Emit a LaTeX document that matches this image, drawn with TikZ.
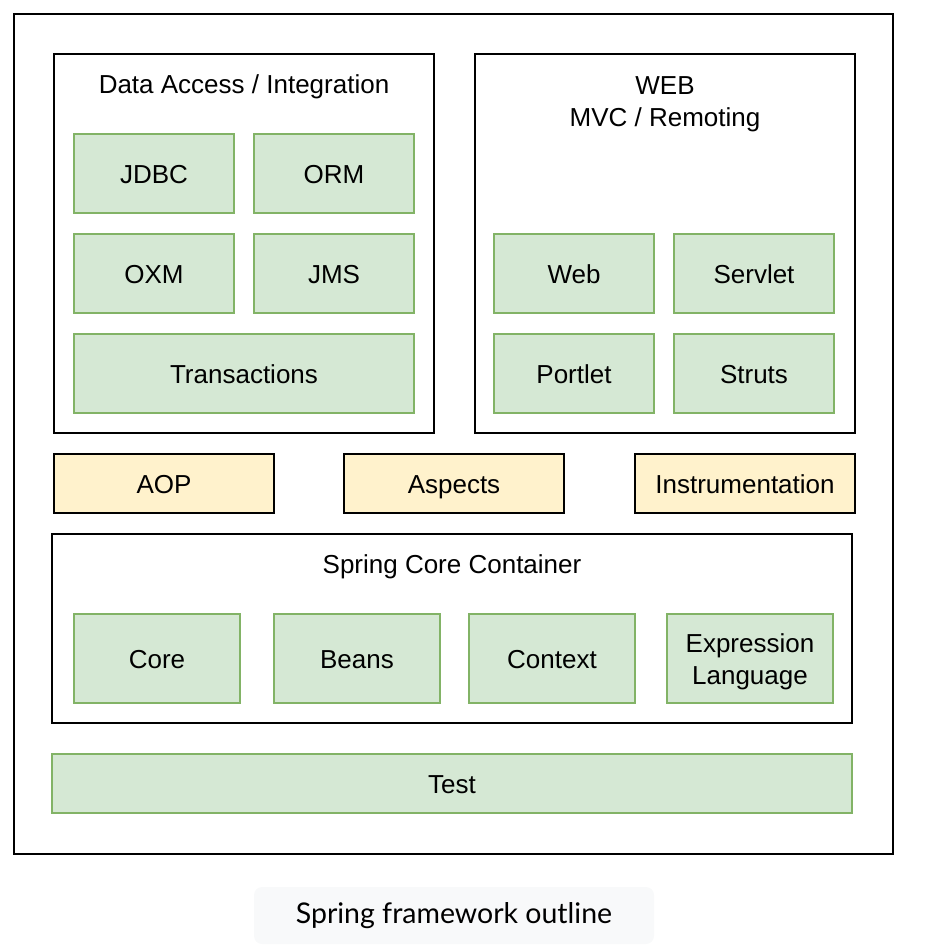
\documentclass[tikz,border=0pt]{standalone}
\usepackage{fontspec}
\setmainfont{Liberation Sans}
\newfontfamily\captionfont{Lato}
\definecolor{modfill}{HTML}{D5E8D4}
\definecolor{moddraw}{HTML}{82B366}
\definecolor{aopfill}{HTML}{FFF2CC}
\definecolor{capfill}{HTML}{F8F9FA}
\begin{document}
\begin{tikzpicture}[x=1pt,y=-1pt]
  \tikzset{
    oneline/.style={text height=21pt,text depth=1.6pt},
    twolines/.style={text height=54pt,text depth=1.6pt},
    layer/.style={draw=black,line width=2pt,inner sep=0pt},
    module/.style={draw=moddraw,fill=modfill,line width=1.8pt,inner sep=0pt,
      font=\fontsize{26}{32}\selectfont,align=center,oneline},
    aspect/.style={draw=black,fill=aopfill,line width=2pt,inner sep=0pt,
      minimum width=220pt,minimum height=59pt,font=\fontsize{26}{32}\selectfont,oneline},
    title/.style={font=\fontsize{26}{32}\selectfont,align=center,inner sep=0pt,oneline},
  }
  \useasboundingbox (0,0) rectangle (930,950);

    %FRAME
    \node[layer,minimum width=879pt,minimum height=840pt] (frame) at (453.5,434) {};

    %DATA ACCESS
    \node[layer,minimum width=380pt,minimum height=379pt] (data) at (244,243.5) {};
    \node[title] (datatitle) at (244,84) {Data Access / Integration};
    \node[module,minimum width=160pt,minimum height=79pt] (jdbc) at (154,173.5) {JDBC};
    \node[module,minimum width=160pt,minimum height=79pt] (orm) at (334,173.5) {ORM};
    \node[module,minimum width=160pt,minimum height=79pt] (oxm) at (154,273.5) {OXM};
    \node[module,minimum width=160pt,minimum height=79pt] (jms) at (334,273.5) {JMS};
    \node[module,minimum width=340pt,minimum height=79pt] (tx) at (244,373.5) {Transactions};

    %WEB
    \node[layer,minimum width=380pt,minimum height=379pt] (web) at (665,243.5) {};
    \node[title,twolines] (webtitle) at (665,100) {WEB\\MVC / Remoting};
    \node[module,minimum width=160pt,minimum height=79pt] (webmod) at (574,273.5) {Web};
    \node[module,minimum width=160pt,minimum height=79pt] (servlet) at (754,273.5) {Servlet};
    \node[module,minimum width=160pt,minimum height=79pt] (portlet) at (574,373.5) {Portlet};
    \node[module,minimum width=160pt,minimum height=79pt] (struts) at (754,373.5) {Struts};

    %AOP ROW
    \node[aspect] (aop) at (164,483.5) {AOP};
    \node[aspect] (aspects) at (454,483.5) {Aspects};
    \node[aspect] (instr) at (745,483.5) {Instrumentation};

    %CORE CONTAINER
    \node[layer,minimum width=800pt,minimum height=189pt] (container) at (452,628.5) {};
    \node[title] (containertitle) at (452,564) {Spring Core Container};
    \node[module,minimum width=166pt,minimum height=89pt] (core) at (157,658.5) {Core};
    \node[module,minimum width=166pt,minimum height=89pt] (beans) at (357,658.5) {Beans};
    \node[module,minimum width=166pt,minimum height=89pt] (context) at (552,658.5) {Context};
    \node[module,twolines,minimum width=166pt,minimum height=89pt] (el) at (750,658.5) {Expression\\Language};

    %TEST
    \node[module,minimum width=800pt,minimum height=59pt] (test) at (452,783.5) {Test};

    %CAPTION
    \node[fill=capfill,rounded corners=8pt,minimum width=400pt,minimum height=57pt,
      font=\captionfont\fontsize{28.5}{32}\selectfont] (caption) at (454,915.5) {Spring framework outline};
  \end{tikzpicture}
\end{document}
